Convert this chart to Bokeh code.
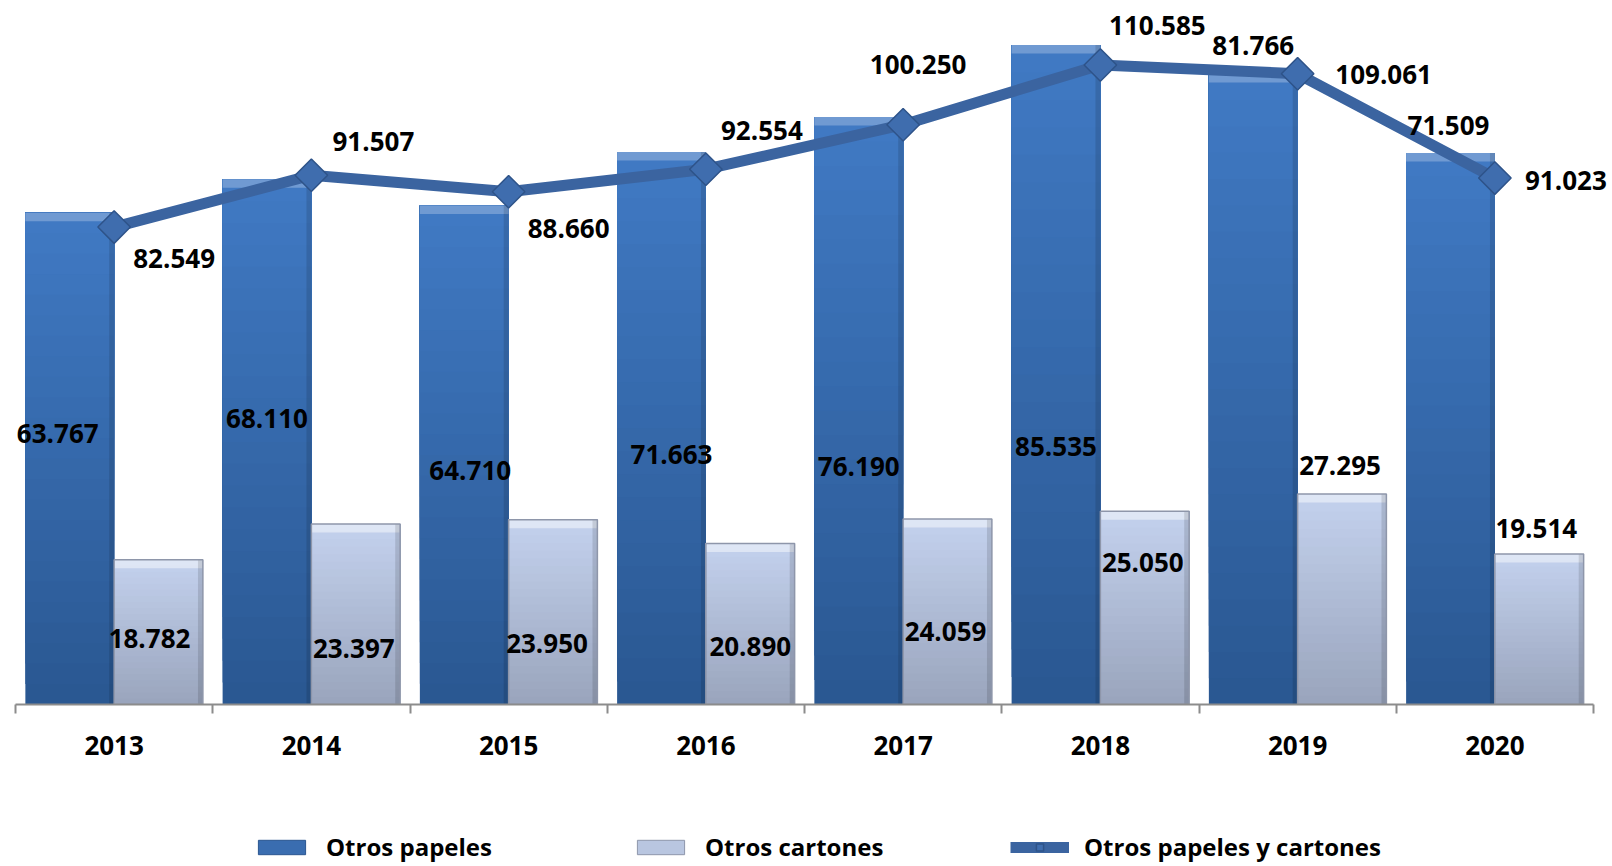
from bokeh.plotting import figure
from bokeh.models import (ColumnDataSource, Range1d, LinearAxis, FixedTicker, Legend, LegendItem)
from bokeh.layouts import column
from bokeh.transform import dodge
from bokeh.core.properties import value
from bokeh.embed import file_html
from bokeh.resources import INLINE

# ---------------- data ----------------
years = ["2013", "2014", "2015", "2016", "2017", "2018", "2019", "2020"]
otros_papeles = [63.767, 68.110, 64.710, 71.663, 76.190, 85.535, 81.766, 71.509]
otros_cartones = [18.782, 23.397, 23.950, 20.890, 24.059, 25.050, 27.295, 19.514]
otros_total = [82.549, 91.507, 88.660, 92.554, 100.250, 110.585, 109.061, 91.023]

# label placement: x offset (px) from the mark, y in primary-axis units
pap_lbl_dx = [-12, 0, 6, 10, 0, 0, 0, -2]
pap_lbl_y = [35.1, 37.1, 30.4, 32.4, 30.9, 33.5, 85.5, 75.1]
car_lbl_dx = [-9, -2, -6, 0, -2, -2, -2, -3]
car_lbl_y = [8.6, 7.3, 7.9, 7.5, 9.5, 18.4, 31.0, 22.8]
tot_lbl_dx = [60, 62, 60, 56, 15, 57, 86, 71]
tot_lbl_y = [57.8, 73.0, 61.7, 74.4, 83.0, 88.0, 81.7, 68.0]

FONT = value("Open Sans")
n = len(years)
xc = [i + 0.5 for i in range(n)]  # category centres on a numeric scale

src = ColumnDataSource(dict(
    x=xc, pap=otros_papeles, car=otros_cartones, tot=otros_total,
    pap_l=[f"{v:.3f}" for v in otros_papeles],
    car_l=[f"{v:.3f}" for v in otros_cartones],
    tot_l=[f"{v:.3f}" for v in otros_total],
    pdx=pap_lbl_dx, py=pap_lbl_y, cdx=car_lbl_dx, cy=car_lbl_y,
    tdx=tot_lbl_dx, ty=tot_lbl_y,
))

CAT_PX = 197.25          # width of one category in pixels
FW, FH = 1595, 704       # frame size (extra room right and top for the labels)
PX_PER_UNIT = 694 / 90   # primary axis: 0..90 over 694 px

p = figure(x_range=Range1d(0, FW / CAT_PX), y_range=Range1d(0, FH / PX_PER_UNIT),
           frame_width=FW, frame_height=FH,
           min_border_left=15, min_border_top=0, min_border_right=0, min_border_bottom=72,
           x_axis_location=None, y_axis_location=None,
           output_backend="svg", toolbar_location=None)
p.extra_y_ranges = {"tot": Range1d(0, FH / PX_PER_UNIT * 120 / 90)}
p.xgrid.visible = False
p.ygrid.visible = False
p.outline_line_color = None
p.background_fill_color = "white"
p.border_fill_color = "white"

# axis with tick marks at category boundaries
tick_axis = LinearAxis(ticker=FixedTicker(ticks=list(range(n + 1))), bounds=(0, n),
                       major_label_overrides={i: "" for i in range(n + 1)},
                       major_label_text_font_size="0px", major_label_standoff=0,
                       axis_line_color="#8C8C8C", axis_line_width=2,
                       major_tick_line_color="#8C8C8C", major_tick_line_width=2,
                       major_tick_in=0, major_tick_out=9, minor_tick_line_color=None)
p.add_layout(tick_axis, "below")
# axis carrying the year labels at category centres
cat_axis = LinearAxis(ticker=FixedTicker(ticks=xc),
                      major_label_overrides={x: y for x, y in zip(xc, years)},
                      axis_line_color=None, major_tick_line_color=None,
                      minor_tick_line_color=None,
                      major_label_text_font="Open Sans", major_label_text_font_style="bold",
                      major_label_text_font_size="26px", major_label_text_color="black",
                      major_label_standoff=16)
p.add_layout(cat_axis, "below")


def lerp(c1, c2, t):
    a = [int(c1[i:i + 2], 16) for i in (1, 3, 5)]
    b = [int(c2[i:i + 2], 16) for i in (1, 3, 5)]
    return "#%02x%02x%02x" % tuple(round(a[j] + (b[j] - a[j]) * t) for j in range(3))


N = 24
W = 0.45
for key, off, c_bot, c_top in (("pap", -0.225, "#2a5892", "#4079c3"),
                               ("car", 0.225, "#9aa5bd", "#c3d1ed")):
    vals = otros_papeles if key == "pap" else otros_cartones
    for k in range(N):
        s = ColumnDataSource(dict(x=xc, b=[v * k / N for v in vals], t=vals))
        p.vbar(x=dodge("x", off), width=W, bottom="b", top="t", source=s,
               fill_color=lerp(c_bot, c_top, k / (N - 1)), line_color=None)
    # top bevel
    s = ColumnDataSource(dict(x=xc, b=[v - 1.1 for v in vals], t=vals))
    p.vbar(x=dodge("x", off), width=W, bottom="b", top="t", source=s,
           fill_color="white", fill_alpha=0.25 if key == "pap" else 0.45, line_color=None)
    # right edge shade
    p.vbar(x=dodge("x", off + W / 2 - 0.0125), width=0.025, bottom=0,
           top=key, source=src, fill_color="black", fill_alpha=0.12, line_color=None)
    if key == "car":
        p.vbar(x=dodge("x", off), width=W, bottom=0, top=key, source=src,
               fill_alpha=0, line_color="#8e96aa", line_width=1.5)

# line series on secondary axis
line_r = p.line(x="x", y="tot", source=src, y_range_name="tot",
                line_width=11, line_color="#3b64a0", line_join="round")
mark_r = p.scatter(x="x", y="tot", source=src, y_range_name="tot", marker="square",
                   angle=0.7853981, size=23, fill_color="#3f6dae", line_color="#2e5389",
                   line_width=1.5)

# data labels
common = dict(text_font=FONT, text_font_style="bold", text_font_size=value("26px"),
              text_color="black", text_align="center", text_baseline="middle", source=src)
p.text(x=dodge("x", -0.225), y="py", text="pap_l", x_offset="pdx", **common)
p.text(x=dodge("x", 0.225), y="cy", text="car_l", x_offset="cdx", **common)
p.text(x="x", y="ty", text="tot_l", x_offset="tdx", **common)

# ---------------- legend strip ----------------
# the series are re-drawn here far outside the visible range, only to feed the legend
pl = figure(width=FW + 15, height=90, x_range=Range1d(-1000, -999), y_range=Range1d(-1000, -999),
            min_border=0, x_axis_location=None, y_axis_location=None,
            output_backend="svg", toolbar_location=None)
pl.xgrid.visible = False
pl.ygrid.visible = False
pl.outline_line_color = None
pl.background_fill_color = "white"
pl.border_fill_color = "white"
leg_pap = pl.vbar(x="x", top="pap", width=W, source=src, fill_color="#3a6db0", line_color="#2a5590")
leg_car = pl.vbar(x="x", top="car", width=W, source=src, fill_color="#b9c6e0", line_color="#8e96aa")
leg_line = pl.line(x="x", y="tot", source=src, line_width=11, line_color="#3b64a0")
leg_mark = pl.scatter(x="x", y="tot", source=src, marker="square", angle=0.7853981, size=16,
                      fill_color="#3f6dae", line_color="#2e5389", line_width=1.5)

legend = Legend(items=[LegendItem(label="Otros papeles", renderers=[leg_pap]),
                       LegendItem(label="Otros cartones", renderers=[leg_car]),
                       LegendItem(label="Otros papeles y cartones", renderers=[leg_line, leg_mark])],
                location=(237, 3), orientation="horizontal",
                glyph_width=59, glyph_height=18, label_standoff=15, spacing=5,
                label_width=300, padding=0, margin=0,
                border_line_color=None, background_fill_alpha=0,
                label_text_font="Open Sans", label_text_font_style="bold",
                label_text_font_size="24px", label_text_color="black")
pl.add_layout(legend, "center")

layout = column(p, pl, spacing=0)
open("out.html", "w").write(file_html(layout, INLINE))
